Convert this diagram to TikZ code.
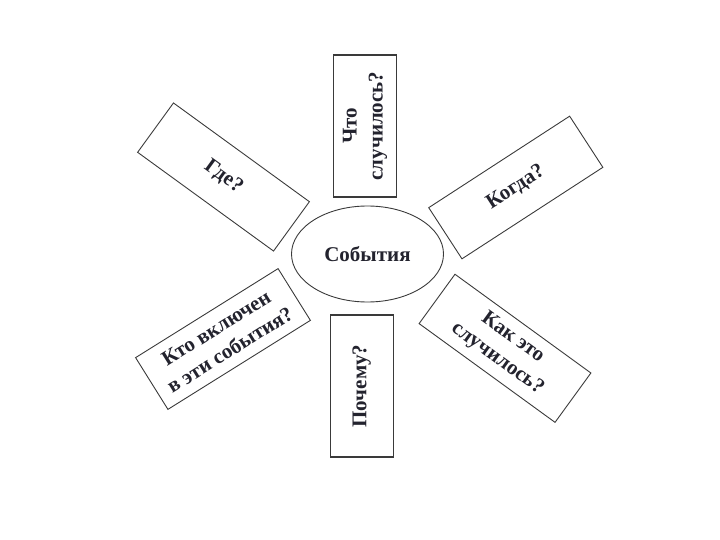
\documentclass[tikz,border=0pt]{standalone}
\usepackage{fontspec}
\setmainfont{Liberation Serif}
\usetikzlibrary{shapes.geometric}
\definecolor{qline}{HTML}{3A3A3A}
\definecolor{qtext}{HTML}{23232E}

\begin{document}
\begin{tikzpicture}[x=1pt, y=-1pt,
    every node/.style={font=\fontsize{21}{26}\selectfont\bfseries, text=qtext},
    qbox/.style={draw=qline, line width=0.9pt, minimum width=168pt, minimum height=61pt, inner sep=0pt, align=center},
    vbox/.style={draw=qline, line width=1.3pt, minimum width=142pt, minimum height=63pt, inner sep=0pt, align=center, rotate=90}]
    \useasboundingbox (0,0) rectangle (720,540);

    \node[ellipse, draw=qline, line width=0.9pt, minimum width=152pt, minimum height=96pt] (sob) at (367.5,254) {События};

    \node[vbox] (chto) at (365,126) {Что\\случилось?};
    \node[vbox] (pochemu) at (361.7,386) {Почему?};

    \node[qbox, rotate=-36] (gde) at (223.5,177) {Где?};
    \node[qbox, rotate=33] (kogda) at (515.8,187.5) {Когда?};
    \node[qbox, rotate=32] (kto) at (223,339) {Кто включен\\в эти события?};
    \node[qbox, rotate=-36] (kak) at (505,348.3) {Как это\\случилось?};
  \end{tikzpicture}
\end{document}
